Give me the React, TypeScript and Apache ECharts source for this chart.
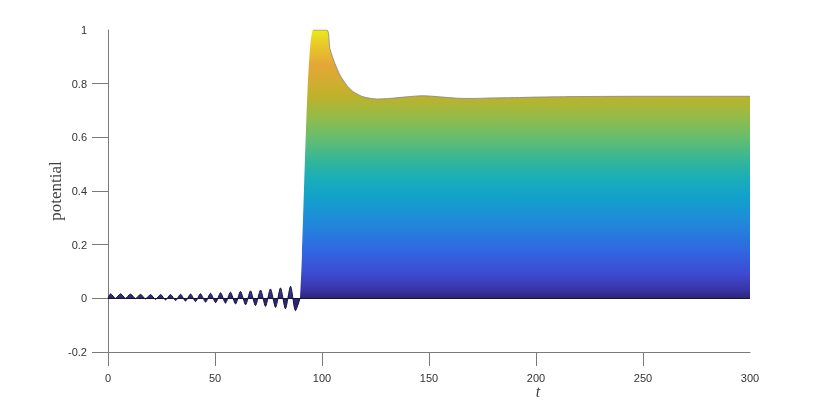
import React, { useEffect, useRef } from "react";
import * as echarts from "echarts";

// time samples (t) and potential values
const tValues = [
  0, 1.2, 3.5, 5.9, 8.2, 10.5, 12.9, 15.2, 17.5, 19.9, 22.2, 24.6, 26.9, 29.2, 31.6,
  33.9, 36.2, 38.6, 40.9, 43.2, 45.6, 47.9, 50.3, 52.6, 54.9, 57.2, 59.6, 61.9, 64.3,
  66.6, 68.9, 71.3, 73.6, 75.9, 78.3, 80.6, 82.9, 85.3, 87.6, 89.7,
  95.9, 102.3, 103.7, 106, 108.4, 111.5, 114.6, 119.3, 125.5, 131.7, 139.5, 147.3,
  155, 162.9, 170.5, 180, 190, 200, 220, 250, 280, 300,
];
const potential = [
  0.0, 0.017, 0.0, 0.017, 0.0, 0.016, -0.001, 0.015, -0.002, 0.014, -0.004, 0.014, -0.006,
  0.014, -0.008, 0.015, -0.01, 0.016, -0.012, 0.017, -0.014, 0.019, -0.016, 0.021, -0.018,
  0.023, -0.021, 0.026, -0.024, 0.028, -0.027, 0.031, -0.03, 0.035, -0.034, 0.039, -0.039,
  0.045, -0.046, 0.0,
  1.0, 1.0, 0.93, 0.876, 0.832, 0.795, 0.77, 0.751, 0.743, 0.745, 0.751, 0.755,
  0.751, 0.746, 0.745, 0.747, 0.748, 0.75, 0.752, 0.753, 0.753, 0.753,
];

const xTicks = [0, 50, 100, 150, 200, 250];
const yTicks = [-0.2, 0, 0.2, 0.4, 0.6, 0.8];

const GRID = { left: 108, right: 80, top: 30, bottom: 49 };
const H = 401;

export default function App() {
  const ref = useRef<HTMLDivElement>(null);
  useEffect(() => {
    if (!ref.current) return;
    const chart = echarts.init(ref.current, undefined, { renderer: "svg" });
    const plotH = H - GRID.top - GRID.bottom;
    const yOf = (v: number) => GRID.top + ((1 - v) / 1.2) * plotH;
    const grad = new echarts.graphic.LinearGradient(
      0, yOf(1), 0, yOf(0),
      [
        { offset: 0.0, color: "#eaea18" },
        { offset: 0.05, color: "#e8cc28" },
        { offset: 0.13, color: "#e4a636" },
        { offset: 0.2, color: "#cfae30" },
        { offset: 0.25, color: "#bdb22a" },
        { offset: 0.32, color: "#96bb48" },
        { offset: 0.4, color: "#66be6e" },
        { offset: 0.48, color: "#38b696" },
        { offset: 0.55, color: "#1aaeb8" },
        { offset: 0.63, color: "#12a0cc" },
        { offset: 0.72, color: "#2188da" },
        { offset: 0.82, color: "#3068e2" },
        { offset: 0.91, color: "#3d4ad2" },
        { offset: 0.97, color: "#3934a4" },
        { offset: 1.0, color: "#2a2676" },
      ],
      true
    );
    const all = tValues.map((t, i) => [t, potential[i]]);
    const spikeStart = tValues.indexOf(89.7);
    const osc = all.slice(0, spikeStart + 1);
    const top = all.slice(spikeStart + 1);
    const axisColor = "#7a7a7a";
    chart.setOption({
      animation: false,
      grid: GRID,
      xAxis: {
        type: "value",
        min: 0,
        max: 300,
        interval: 50,
        axisLine: { show: true, onZero: false, lineStyle: { color: axisColor, width: 1 } },
        axisTick: { show: true, inside: false, length: 14, customValues: xTicks, lineStyle: { color: axisColor } },
        axisLabel: { margin: 20, color: "#333", fontSize: 11, fontFamily: "Liberation Sans, Arial, sans-serif" },
        splitLine: { show: false },
      },
      yAxis: {
        type: "value",
        min: -0.2,
        max: 1,
        interval: 0.2,
        name: "potential",
        nameLocation: "middle",
        nameGap: 44,
        nameMoveOverlap: false,
        nameTextStyle: { fontFamily: "Liberation Serif, serif", fontSize: 17, color: "#404040" },
        axisLine: { show: true, onZero: false, lineStyle: { color: axisColor, width: 1 } },
        axisTick: { show: true, inside: false, length: 16, customValues: yTicks, lineStyle: { color: axisColor } },
        axisLabel: { margin: 21, color: "#333", fontSize: 11, fontFamily: "Liberation Sans, Arial, sans-serif" },
        splitLine: { show: false },
      },
      graphic: [
        {
          type: "text",
          x: 538,
          y: 391,
          style: {
            text: "t",
            font: "italic 16px 'Liberation Serif', serif",
            fill: "#404040",
            align: "center",
            verticalAlign: "middle",
          },
        },
      ],
      series: [
        {
          type: "line",
          data: all,
          showSymbol: false,
          smooth: 0.25,
          lineStyle: { width: 0, opacity: 0 },
          areaStyle: { color: grad, opacity: 1 },
          markLine: {
            silent: true,
            symbol: "none",
            label: { show: false },
            lineStyle: { color: "#14142a", width: 1.2, type: "solid" },
            data: [{ yAxis: 0 }],
          },
          z: 2,
        },
        {
          type: "line",
          data: osc,
          showSymbol: false,
          smooth: 0.25,
          lineStyle: { color: "#16163a", width: 1 },
          z: 3,
        },
        {
          type: "line",
          data: top,
          showSymbol: false,
          smooth: 0.25,
          lineStyle: { color: "rgba(130,130,150,0.8)", width: 1 },
          z: 3,
        },
      ],
    });
    return () => chart.dispose();
  }, []);
  return <div ref={ref} style={{ position: "fixed", left: 0, top: 0, width: 830, height: 401 }} />;
}
